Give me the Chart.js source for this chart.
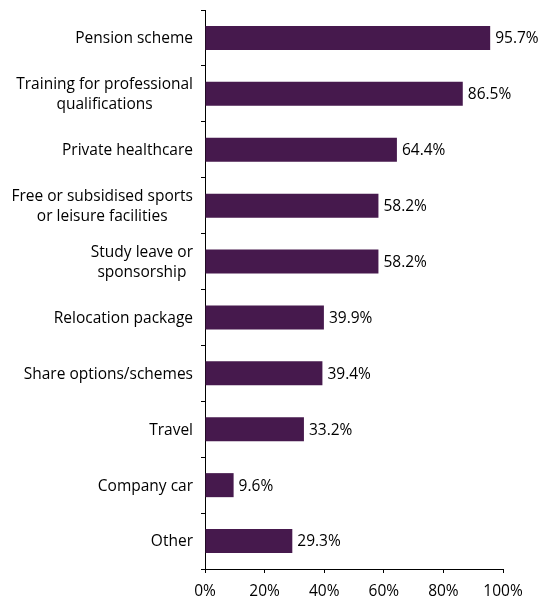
<!DOCTYPE html>
<html>
<head>
<meta charset="utf-8">
<script src="https://cdn.jsdelivr.net/npm/chart.js@4/dist/chart.umd.min.js"></script>
<style>
  html, body { margin: 0; padding: 0; background: #fff; }
  #wrap { width: 542px; height: 603px; position: relative; }
</style>
</head>
<body>
<div id="wrap"><canvas id="chart"></canvas></div>
<script>
const categories = [
    'Pension scheme',
    ['Training for professional', 'qualifications'],
    'Private healthcare',
    ['Free or subsidised sports', 'or leisure facilities'],
    ['Study leave or', 'sponsorship'],
    'Relocation package',
    'Share options/schemes',
    'Travel',
    'Company car',
    'Other'
];
const values = [95.7, 86.5, 64.4, 58.2, 58.2, 39.9, 39.4, 33.2, 9.6, 29.3];
const tickValues = [0, 20, 40, 60, 80, 100];

const barColour = '#46194d';
const fontFamily = '"Open Sans", "DejaVu Sans", sans-serif';
const fontSize = 15.5;

// prints the percentage just past the end of each bar
const valueLabels = {
    id: 'valueLabels',
    afterDatasetsDraw(chart) {
        const ctx = chart.ctx;
        const meta = chart.getDatasetMeta(0);
        ctx.save();
        ctx.font = fontSize + 'px ' + fontFamily;
        ctx.fillStyle = '#000';
        ctx.textAlign = 'left';
        ctx.textBaseline = 'middle';
        meta.data.forEach((bar, i) => {
            ctx.fillText(values[i].toFixed(1) + '%', bar.x + 5, bar.y + 1);
        });
        ctx.restore();
    }
};

// category names: each block sits right of the axis gap, its lines centred on each other
const categoryLabels = {
    id: 'categoryLabels',
    afterDraw(chart) {
        const ctx = chart.ctx;
        const y = chart.scales.y;
        const right = y.right - 12;
        const lineHeight = 20;
        ctx.save();
        ctx.font = fontSize + 'px ' + fontFamily;
        ctx.fillStyle = '#000';
        ctx.textAlign = 'center';
        ctx.textBaseline = 'middle';
        categories.forEach((label, i) => {
            const lines = Array.isArray(label) ? label : [label];
            const w = Math.max(...lines.map(l => ctx.measureText(l).width));
            const cx = right - w / 2;
            const cy = y.getPixelForValue(i);
            const start = cy - (lines.length - 1) * lineHeight / 2;
            lines.forEach((l, j) => ctx.fillText(l, cx, start + j * lineHeight + 1));
        });
        ctx.restore();
    }
};

const ctx = document.getElementById('chart').getContext('2d');
new Chart(ctx, {
    type: 'bar',
    data: {
        labels: categories,
        datasets: [{
            data: values,
            backgroundColor: barColour,
            borderWidth: 0,
            barPercentage: 0.43,
            categoryPercentage: 1
        }]
    },
    options: {
        indexAxis: 'y',
        responsive: true,
        maintainAspectRatio: false,
        animation: false,
        layout: { padding: { top: 10, right: 39, left: 0, bottom: 0 } },
        plugins: {
            legend: { display: false },
            tooltip: { enabled: false }
        },
        scales: {
            x: {
                min: 0,
                max: 100,
                afterBuildTicks(scale) {
                    scale.ticks = tickValues.map(v => ({ value: v }));
                },
                afterFit(scale) { scale.height = 34; },
                border: { display: true, color: '#000', width: 1 },
                grid: { drawOnChartArea: false, drawTicks: true, tickLength: 4, color: '#000' },
                ticks: {
                    color: '#000',
                    padding: 9,
                    maxRotation: 0,
                    font: { family: fontFamily, size: fontSize },
                    callback: v => v + '%'
                }
            },
            y: {
                afterFit(scale) { scale.width = 205; },
                border: { display: true, color: '#000', width: 1 },
                grid: { drawOnChartArea: false, drawTicks: true, tickLength: 4, color: '#000', offset: true },
                ticks: {
                    display: false
                }
            }
        }
    },
    plugins: [valueLabels, categoryLabels]
});
</script>
</body>
</html>
